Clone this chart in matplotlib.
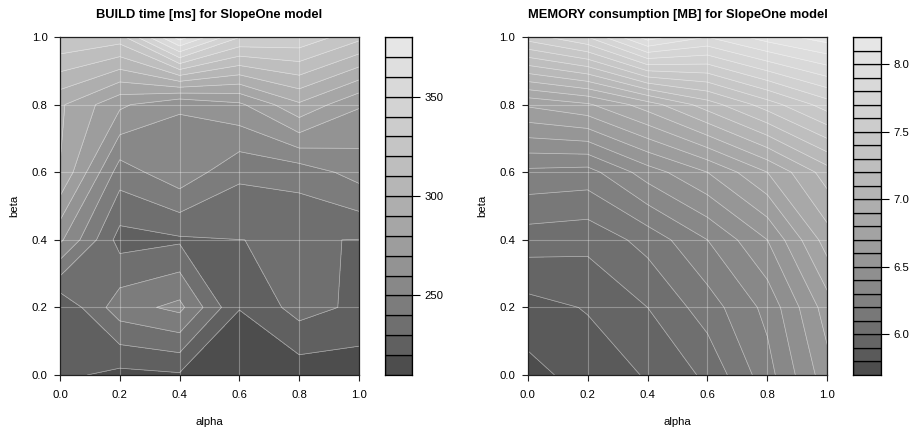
import numpy as np
import matplotlib
matplotlib.use("Agg")
import matplotlib.pyplot as plt

plt.rcParams['font.family'] = ['Liberation Sans', 'DejaVu Sans']

alpha = [0.0, 0.2, 0.4, 0.6, 0.8, 1.0]
beta = [0.0, 0.2, 0.4, 0.6, 0.8, 1.0]

# build time [ms], one row per beta, one column per alpha
build_ms = [
    [222.4, 217.1, 218.8, 212.5, 214.0, 214.2],
    [221.0, 245.7, 252.7, 220.3, 234.0, 227.8],
    [262.0, 226.0, 228.5, 229.95, 230.5, 229.8],
    [289.8, 245.0, 257.0, 242.1, 244.2, 254.0],
    [291.6, 272.1, 260.5, 268.0, 288.4, 271.0],
    [329.5, 325.5, 375.0, 340.5, 338.0, 323.0],
]

# memory [MB], same layout
memory_mb = [
    [5.765, 5.843, 5.908, 6.02, 6.26, 6.56],
    [5.862, 5.907, 6.00, 6.15, 6.33, 6.65],
    [6.048, 6.03, 6.136, 6.30, 6.50, 6.85],
    [6.275, 6.26, 6.45, 6.60, 6.80, 7.05],
    [6.715, 6.785, 6.95, 7.15, 7.35, 7.55],
    [7.55, 7.70, 8.05, 7.90, 8.05, 8.15],
]

build_levels = np.arange(210, 381, 10)
memory_levels = np.round(np.arange(5.7, 8.21, 0.1), 1)
build_key_ticks = [250, 300, 350]
memory_key_ticks = [6.0, 6.5, 7.0, 7.5, 8.0]


def gray_colors(n, start=0.3, end=0.9, gamma=2.2):
    # same ramp as R's gray.colors()
    v = np.linspace(start ** gamma, end ** gamma, n) ** (1 / gamma)
    return [(g, g, g) for g in v]


def panel(ax, cax, z, levels, title, key_ticks, key_fmt):
    cols = gray_colors(len(levels) - 1)
    ax.contourf(alpha, beta, z, levels=levels, colors=cols)
    ax.contour(alpha, beta, z, levels=levels, colors='white',
               linewidths=0.5, alpha=0.5)
    for g in alpha[1:-1]:
        ax.axvline(g, color='white', lw=0.8, alpha=0.3)
    for g in beta[1:-1]:
        ax.axhline(g, color='white', lw=0.8, alpha=0.3)
    ax.set_xlim(0, 1)
    ax.set_ylim(0, 1)
    ax.set_xticks(alpha)
    ax.set_xticklabels([f"{v:.1f}" for v in alpha])
    ax.set_yticks(beta)
    ax.set_yticklabels([f"{v:.1f}" for v in beta])
    ax.tick_params(labelsize=8.2, length=4, width=0.8, pad=5, color='#222222')
    ax.tick_params(axis='x', pad=7)
    for s in ax.spines.values():
        s.set_color('#222222')
        s.set_linewidth(0.9)
    ax.set_title(title, fontsize=9.3, fontweight='bold', pad=14)
    ax.set_xlabel('alpha', fontsize=8.2, labelpad=12)
    ax.set_ylabel('beta', fontsize=8.2, labelpad=9)

    # colour key
    cax.bar(0.5, np.diff(levels), bottom=levels[:-1], width=1.0, color=cols,
            edgecolor='black', linewidth=0.9)
    cax.set_xlim(0, 1)
    cax.set_ylim(levels[0], levels[-1])
    cax.set_xticks([])
    cax.yaxis.tick_right()
    cax.set_yticks(key_ticks)
    cax.set_yticklabels([key_fmt.format(t) for t in key_ticks])
    cax.tick_params(labelsize=8.2, length=6, width=0.8, pad=3)
    for s in cax.spines.values():
        s.set_linewidth(0.9)


fig = plt.figure(figsize=(9.1, 4.32), dpi=100)
ax1 = fig.add_axes([0.0659, 0.1319, 0.3286, 0.7824])
cax1 = fig.add_axes([0.4231, 0.1319, 0.0297, 0.7824])
ax2 = fig.add_axes([0.5799, 0.1319, 0.3292, 0.7824])
cax2 = fig.add_axes([0.9374, 0.1319, 0.0304, 0.7824])

panel(ax1, cax1, build_ms, build_levels,
      'BUILD time [ms] for SlopeOne model', build_key_ticks, '{:.0f}')
panel(ax2, cax2, memory_mb, memory_levels,
      'MEMORY consumption [MB] for SlopeOne model', memory_key_ticks, '{:.1f}')

fig.savefig('out.png', dpi=100)
